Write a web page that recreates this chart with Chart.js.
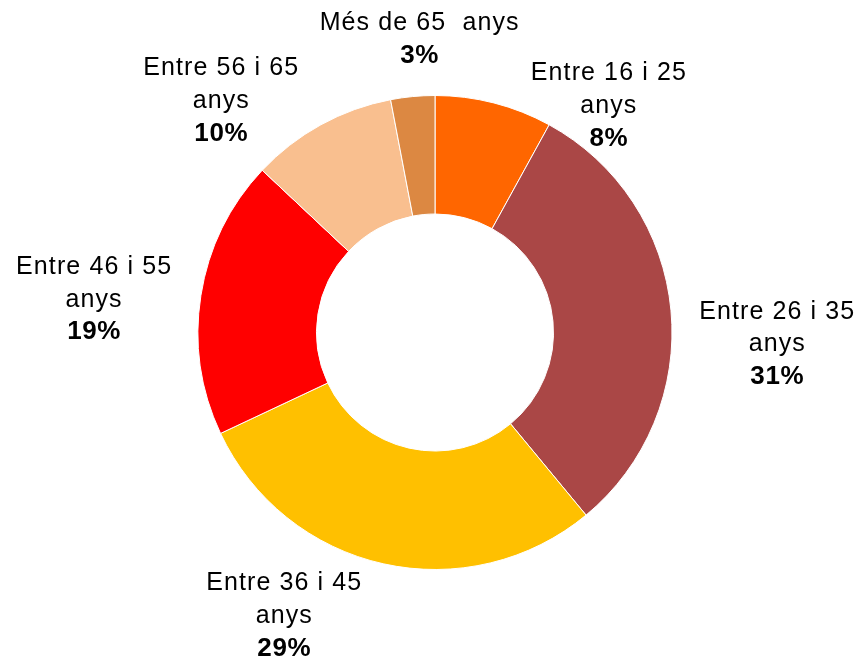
<!DOCTYPE html>
<html>
<head>
<meta charset="utf-8">
<script src="https://cdn.jsdelivr.net/npm/chart.js@4/dist/chart.umd.min.js"></script>
<style>
html,body{margin:0;padding:0;background:#fff;}
#wrap{width:863px;height:664px;position:relative;}
</style>
</head>
<body>
<div id="wrap"><canvas id="c" width="863" height="664"></canvas></div>
<script>
const categories = ["Entre 16 i 25 anys","Entre 26 i 35 anys","Entre 36 i 45 anys","Entre 46 i 55 anys","Entre 56 i 65 anys","Més de 65 anys"];
const labelLines = [["Entre 16 i 25","anys"],["Entre 26 i 35","anys"],["Entre 36 i 45","anys"],["Entre 46 i 55","anys"],["Entre 56 i 65","anys"],["Més de 65  anys"]];
const values = [8, 31, 29, 19, 10, 3];
const colors = ["#FF6600","#AA4746","#FFC000","#FF0000","#F9BF8F","#DC8842"];
// label placement: angle (deg clockwise from top) and distance as factor of outer radius
const labelPolar = [[37.5, 1.205],[92, 1.445],[208, 1.355],[275.5, 1.445],[317.3, 1.33],[-3, 1.237]];

const labelPlugin = {
  id: 'outLabels',
  afterDatasetsDraw(chart) {
    const ctx = chart.ctx;
    const meta = chart.getDatasetMeta(0);
    const total = values.reduce((a,b)=>a+b,0);
    meta.data.forEach((arc, i) => {
      const p = arc.getProps(['x','y','outerRadius'], true);
      const [deg, f] = labelPolar[i];
      const a = deg * Math.PI / 180;
      const cx = p.x + Math.sin(a) * p.outerRadius * f;
      const cy = p.y - Math.cos(a) * p.outerRadius * f;
      const lines = labelLines[i].slice();
      const pct = Math.round(values[i] / total * 100) + '%';
      const n = lines.length + 1;
      const lh = 32.5;
      let y0 = cy - (n - 1) * lh / 2;
      ctx.save();
      ctx.fillStyle = '#000';
      ctx.textAlign = 'center';
      ctx.textBaseline = 'middle';
      ctx.letterSpacing = '1.1px';
      ctx.font = '25px "Liberation Sans", Arial, sans-serif';
      lines.forEach((t, k) => ctx.fillText(t, cx, y0 + k * lh));
      ctx.letterSpacing = '0.6px';
      ctx.font = 'bold 26px "Liberation Sans", Arial, sans-serif';
      ctx.fillText(pct, cx, y0 + lines.length * lh);
      ctx.restore();
    });
  }
};

new Chart(document.getElementById('c'), {
  type: 'doughnut',
  data: {
    labels: categories,
    datasets: [{
      data: values,
      backgroundColor: colors,
      borderColor: '#ffffff',
      borderWidth: 1
    }]
  },
  options: {
    responsive: false,
    animation: false,
    cutout: '50%',
    layout: { padding: { left: 197, right: 190, top: 95, bottom: 94 } },
    plugins: { legend: { display: false }, tooltip: { enabled: false } }
  },
  plugins: [labelPlugin]
});
</script>
</body>
</html>
